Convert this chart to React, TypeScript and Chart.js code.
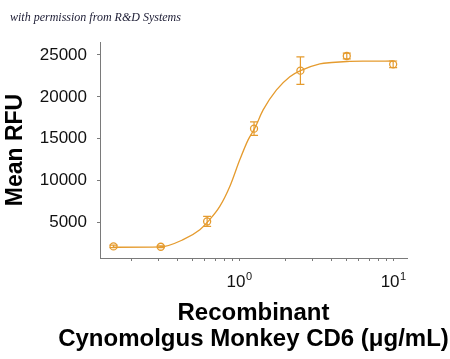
import React, { useEffect, useRef } from "react";
import { Chart, registerables } from "chart.js";

Chart.register(...registerables);

// Measured data (concentration in µg/mL, mean RFU, error)
const concentrations = [0.153, 0.31, 0.62, 1.25, 2.5, 5, 10];
const meanRFU = [2140, 2100, 5120, 16200, 23130, 24880, 23880];
const errorRFU = [150, 110, 600, 800, 1640, 340, 400];

// Fitted curve
const curveX = [0.151, 0.31, 0.433, 0.556, 0.629, 0.749, 0.87, 1.01, 1.144, 1.264, 1.432, 1.749, 2.134, 2.504, 3.343, 4, 5, 7, 10];
const curveY = [2040, 2080, 2940, 4130, 5120, 6910, 9290, 12480, 14860, 16260, 18440, 20830, 22410, 23130, 23930, 24100, 24220, 24260, 24280];

const yTicks = [5000, 10000, 15000, 20000, 25000];
const xMinorTicks = [0.2, 0.3, 0.4, 0.5, 0.6, 0.7, 0.8, 0.9, 1, 2, 3, 4, 5, 6, 7, 8, 9, 10];
const xLabelTicks = [1, 10];
const xLabelExponents = ["0", "1"];

const yTitle = "Mean RFU";
const xTitle = ["Recombinant", "Cynomolgus Monkey CD6 (\u03bcg/mL)"];
const noteText = "with permission from R&D Systems";

const ORANGE = "#E59B2E";
const AXIS = "#7a7a7a";
const FONT = "'Liberation Sans', Arial, sans-serif";

const errorBarPlugin = {
  id: "errorBars",
  afterDatasetsDraw(chart: any) {
    const { ctx, scales } = chart;
    const x = scales.x;
    const y = scales.y;
    ctx.save();
    ctx.strokeStyle = ORANGE;
    ctx.lineWidth = 1.2;
    concentrations.forEach((c, i) => {
      const px = x.getPixelForValue(c);
      const top = y.getPixelForValue(meanRFU[i] + errorRFU[i]);
      const bot = y.getPixelForValue(meanRFU[i] - errorRFU[i]);
      ctx.beginPath();
      ctx.moveTo(px, top);
      ctx.lineTo(px, bot);
      ctx.moveTo(px - 4, top);
      ctx.lineTo(px + 4, top);
      ctx.moveTo(px - 4, bot);
      ctx.lineTo(px + 4, bot);
      ctx.stroke();
    });
    ctx.restore();
  },
};

const textPlugin = {
  id: "extraText",
  afterDraw(chart: any) {
    const { ctx, scales } = chart;
    const x = scales.x;
    ctx.save();
    ctx.font = "italic 12px 'Liberation Serif', 'DejaVu Serif', serif";
    ctx.fillStyle = "#1b1b33";
    ctx.textAlign = "left";
    ctx.textBaseline = "alphabetic";
    ctx.fillText(noteText, 10, 21);
    const baseFont = `17px ${FONT}`;
    const expFont = `11px ${FONT}`;
    ctx.fillStyle = "#111111";
    xLabelTicks.forEach((v, i) => {
      const px = x.getPixelForValue(v);
      ctx.font = baseFont;
      const w1 = ctx.measureText("10").width;
      ctx.font = expFont;
      const w2 = ctx.measureText(xLabelExponents[i]).width;
      const start = px - (w1 + w2) / 2;
      ctx.font = baseFont;
      ctx.fillText("10", start, 287);
      ctx.font = expFont;
      ctx.fillText(xLabelExponents[i], start + w1 + 0.5, 280);
    });
    ctx.font = `bold 24px ${FONT}`;
    ctx.fillStyle = "#000000";
    ctx.textAlign = "center";
    ctx.textBaseline = "middle";
    const cx = (x.left + x.right) / 2;
    xTitle.forEach((line, i) => {
      ctx.fillText(line, cx, 313 + i * 26);
    });
    ctx.restore();
  },
};

export default function App() {
  const canvasRef = useRef<HTMLCanvasElement | null>(null);

  useEffect(() => {
    const canvas = canvasRef.current;
    if (!canvas) return;
    const chart = new Chart(canvas, {
      type: "scatter",
      data: {
        datasets: [
          {
            type: "line",
            label: "fit",
            data: curveX.map((v, i) => ({ x: v, y: curveY[i] })),
            borderColor: ORANGE,
            borderWidth: 1.3,
            pointRadius: 0,
            fill: false,
            cubicInterpolationMode: "monotone",
          } as any,
          {
            label: "data",
            data: concentrations.map((v, i) => ({ x: v, y: meanRFU[i] })),
            pointStyle: "circle",
            pointRadius: 3.5,
            borderWidth: 1.3,
            borderColor: ORANGE,
            backgroundColor: "rgba(0,0,0,0)",
          },
        ],
      },
      options: {
        responsive: false,
        animation: false,
        events: [],
        layout: { padding: { top: 42, right: 43, left: 0, bottom: 0 } },
        plugins: {
          legend: { display: false },
          tooltip: { enabled: false },
          title: { display: false },
        },
        scales: {
          x: {
            type: "logarithmic",
            min: 0.125,
            max: 12.3,
            afterBuildTicks: (s: any) => {
              s.ticks = xMinorTicks.map((v) => ({ value: v }));
            },
            afterFit: (s: any) => {
              s.height = 101;
            },
            ticks: { display: true, callback: () => "", font: { size: 1 }, autoSkip: false },
            grid: {
              display: true,
              drawOnChartArea: false,
              drawTicks: true,
              tickLength: 3,
              tickColor: AXIS,
              tickWidth: 1,
              color: AXIS,
            },
            border: { display: true, color: AXIS, width: 1 },
            title: { display: false },
          },
          y: {
            type: "linear",
            min: 754,
            max: 26550,
            afterBuildTicks: (s: any) => {
              s.ticks = yTicks.map((v) => ({ value: v }));
            },
            afterFit: (s: any) => {
              s.width = 100;
            },
            ticks: {
              color: "#111111",
              font: { family: FONT, size: 17 },
              padding: 10,
              callback: (v: any) => String(v),
            },
            grid: {
              display: true,
              drawOnChartArea: false,
              drawTicks: true,
              tickLength: 3,
              tickColor: AXIS,
              tickWidth: 1,
              color: AXIS,
            },
            border: { display: true, color: AXIS, width: 1 },
            title: {
              display: true,
              text: yTitle,
              color: "#000000",
              font: { family: FONT, size: 23, weight: "bold" },
              padding: { top: 2, bottom: 0 },
            },
          },
        },
      },
      plugins: [errorBarPlugin, textPlugin],
    });
    return () => chart.destroy();
  }, []);

  return (
    <div style={{ position: "fixed", left: 0, top: 0, width: 450, height: 359, background: "#ffffff" }}>
      <canvas ref={canvasRef} width={450} height={359} style={{ display: "block" }} />
    </div>
  );
}
